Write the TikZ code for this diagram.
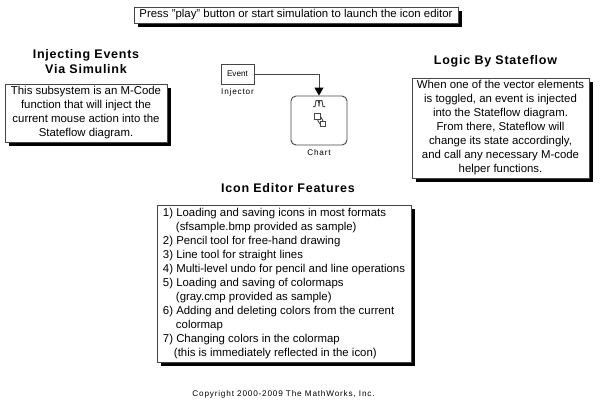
\documentclass[tikz,border=0pt]{standalone}
\usepackage{fontspec}
\setmainfont{Liberation Sans}
\newfontfamily\spacedfont[LetterSpace=10]{Liberation Sans}
\newfontfamily\headfont[LetterSpace=6]{Liberation Sans}
\usepackage{xcolor}
\definecolor{boxline}{RGB}{70,70,70}
\usepackage{tikz}
\usetikzlibrary{arrows.meta,positioning,shadows}
\tikzset{
  note_box/.style={rectangle,
    draw=boxline,fill=white,line width=0.9pt,
    align=center,
    font=\fontsize{11.4}{14}\selectfont,
    inner sep=0pt,
    drop shadow={shadow xshift=4pt,shadow yshift=-4pt,fill=black,opacity=1}},
  title_text/.style={align=center,inner sep=0pt,
    font=\headfont\fontsize{12.5}{15}\selectfont\bfseries},
  block_label/.style={inner sep=0pt,font=\spacedfont\fontsize{8.2}{9}\selectfont},
  sf_box/.style={rectangle,draw=boxline,fill=white,inner sep=0pt,
    minimum width=5.5pt,minimum height=5.5pt,line width=0.8pt},
  sf_line/.style={line width=0.9pt,draw=boxline},
  arr/.style={-{Triangle[length=8pt,width=9pt,color=black,fill=black]},line width=0.9pt,draw=boxline},
}
\begin{document}
\begin{tikzpicture}[x=1pt,y=-1pt]
  \useasboundingbox (0,0) rectangle (600,408);
  % Note boxes
  \node (press) [note_box,minimum width=324pt,minimum height=16pt] at (296,15)
    {Press "play" button or start simulation to launch the icon editor};
  \node (subsys) [note_box,minimum width=162pt,minimum height=58pt] at (86,113)
    {This subsystem is an M-Code\\ function that will inject the\\
     current mouse action into the\\ Stateflow diagram.};
  \node (logic) [note_box,minimum width=177pt,minimum height=100pt] at (500.5,128)
    {When one of the vector elements\\ is toggled, an event is injected\\
     into the Stateflow diagram.\\ From there, Stateflow will\\
     change its state accordingly,\\ and call any necessary M-code\\
     helper functions.};
  \node (features) [note_box,minimum width=254pt,minimum height=157pt,align=left] at (284,283.5)
    {1) Loading and saving icons in most formats\\
     \hspace*{13pt}(sfsample.bmp provided as sample)\\
     2) Pencil tool for free-hand drawing\\
     3) Line tool for straight lines\\
     4) Multi-level undo for pencil and line operations\\
     5) Loading and saving of colormaps\\
     \hspace*{13pt}(gray.cmp provided as sample)\\
     6) Adding and deleting colors from the current\\
     \hspace*{13pt}colormap\\
     7) Changing colors in the colormap\\
     \hspace*{11pt}(this is immediately reflected in the icon)};
  % Titles
  \node (t_inject) [title_text,above=10pt of subsys.north,anchor=south] {Injecting Events\\ Via Simulink};
  \node (t_logic) [title_text,above=10pt of logic.north,anchor=south,xshift=-5pt] {Logic By Stateflow};
  \node (t_feat) [title_text,above=12pt of features.north,anchor=south,xshift=4pt] {Icon Editor Features};
  % Blocks
  \node (event) [rectangle,draw=boxline,fill=white,line width=0.9pt,minimum width=33pt,
    minimum height=20pt,inner sep=0pt,font=\fontsize{8.2}{9}\selectfont] at (237.5,74) {Event};
  \node (inj_lab) [block_label,below=4pt of event] {Injector};
  \node (chart) [rectangle,rounded corners=5pt,draw=boxline,fill=white,line width=0.9pt,
    minimum width=56pt,minimum height=49pt,inner sep=0pt] at (319,120.5) {};
  \node (chart_lab) [block_label,below=4pt of chart] {Chart};
  \coordinate (trig) at ([yshift=-11pt]chart.north);
  \draw[sf_line] ([xshift=-6pt]trig) -- ++(2,0) -- ++(1,-6) -- ++(2.5,0) -- ++(0.5,6)
    -- ++(0.5,-6) -- ++(2.5,0) -- ++(1,6) -- ++(2,0);
  \node (st_a) [sf_box] at (317.5,116.5) {};
  \node (st_b) [sf_box] at (323,124) {};
  \draw[sf_line] (st_a.south) to[bend right=20] (st_b.west);
  \draw[sf_line] (st_a.east) to[bend left=20] (st_b.north);
  \draw[arr] (event.east) -| (chart.north);
  % Footer
  \node (copyr) [block_label] at (283.5,394) {Copyright 2000-2009 The MathWorks, Inc.};
\end{tikzpicture}
\end{document}
